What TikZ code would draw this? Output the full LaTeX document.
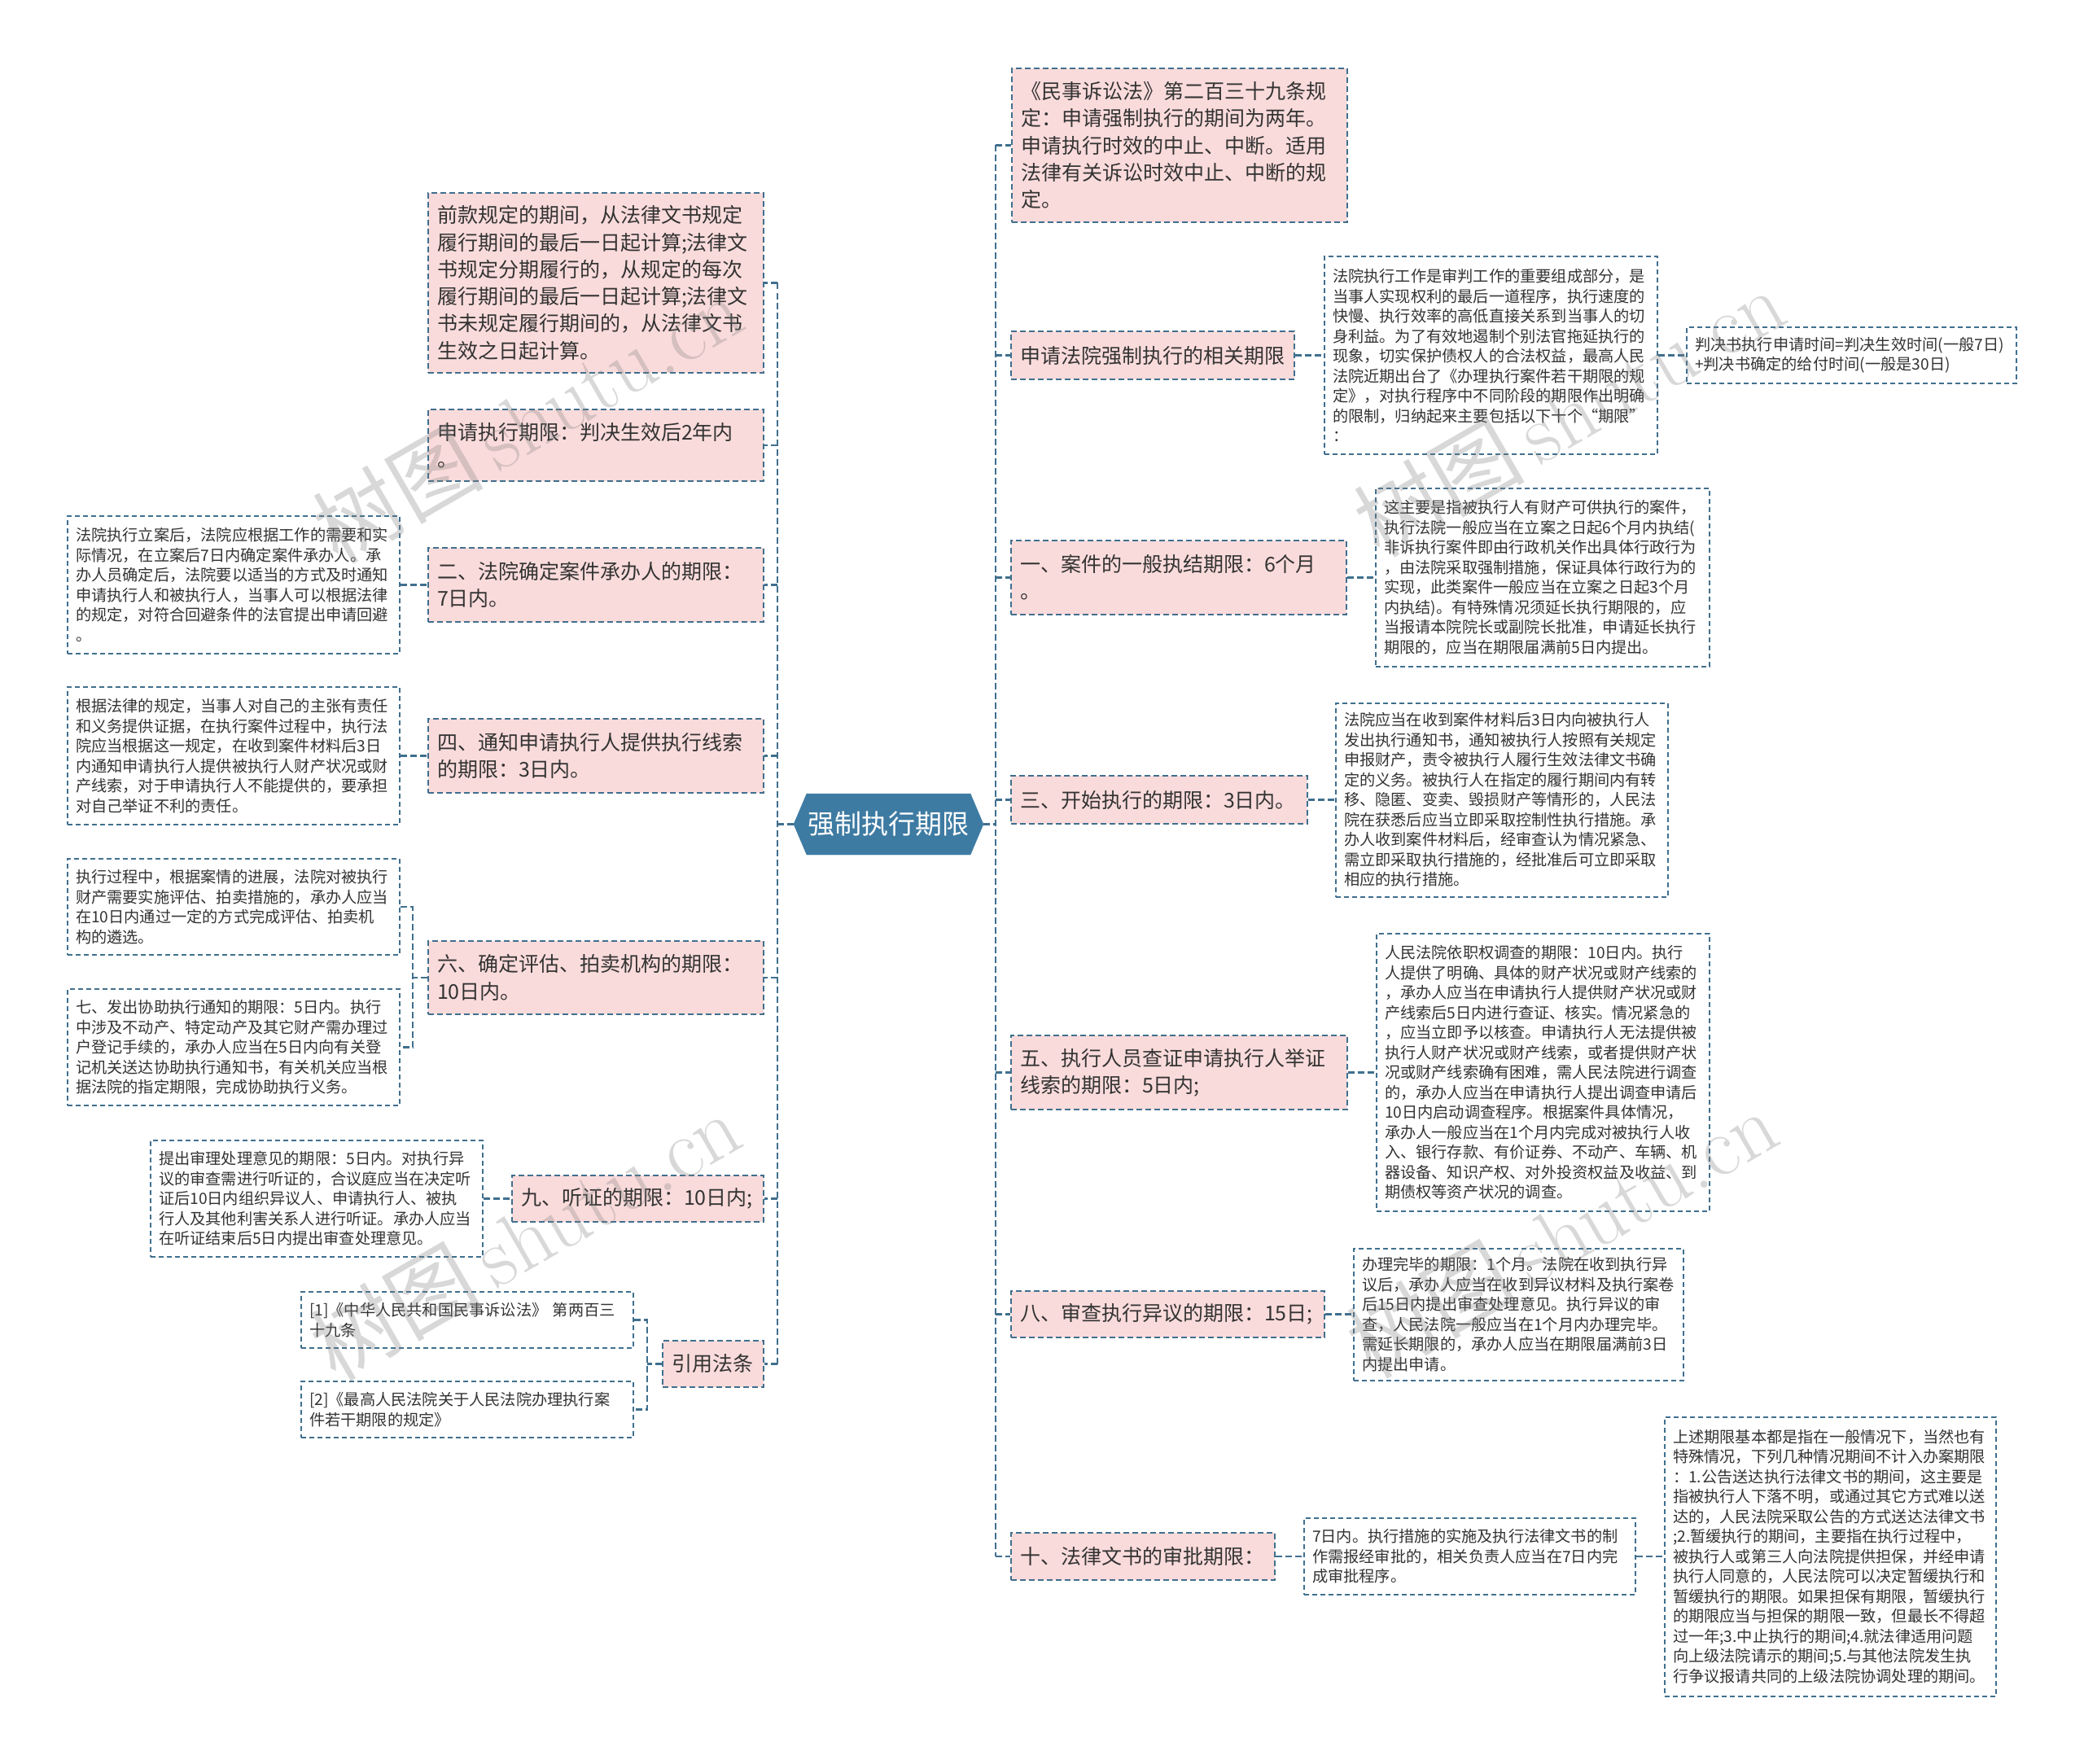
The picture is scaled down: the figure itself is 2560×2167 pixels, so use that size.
\documentclass[tikz,border=0pt]{standalone}
\usepackage{fontspec}
\newfontfamily\cjkfont{Noto Sans CJK SC}
\usetikzlibrary{shapes.symbols}
\definecolor{linkblue}{RGB}{64,111,142}
\definecolor{rootblue}{RGB}{62,123,163}
\definecolor{topicpink}{RGB}{250,219,219}
\definecolor{textgray}{RGB}{51,51,51}

\begin{document}
\begin{tikzpicture}[x=1pt, y=-1pt,
  conn/.style={draw=linkblue, line width=2.2pt, dash pattern=on 8pt off 4pt},
  root/.style={shape=signal, signal to=west and east, signal pointer angle=134,
    fill=rootblue, draw=rootblue, text=white, minimum width=233pt, minimum height=75pt,
    inner sep=0pt, font=\cjkfont\fontsize{33}{40}\selectfont},
  topic/.style 2 args={draw=linkblue, line width=2pt, dash pattern=on 7pt off 4pt,
    fill=topicpink, text=textgray, align=left, inner xsep=11pt, inner ysep=4pt,
    text width=#1, minimum height=#2, font=\cjkfont\fontsize{25}{33.3}\selectfont},
  note/.style 2 args={draw=linkblue, line width=2pt, dash pattern=on 6pt off 4pt,
    fill=white, text=textgray, align=left, inner xsep=10pt, inner ysep=4pt,
    text width=#1, minimum height=#2, font=\cjkfont\fontsize{19.2}{24.5}\selectfont},
  wmark/.style={text=gray, text opacity=0.3, rotate=30, inner sep=0pt,
    font=\fontsize{105}{110}\selectfont}]

\path[use as bounding box, fill=white] (0,0) rectangle (2560,2167);

%% root
\node[root] (root) at (1091.5,1012.5) {强制执行期限};

%% left branch
\node[topic={390pt}{221pt}] (L1) at (732,347.5) {前款规定的期间，从法律文书规定\\履行期间的最后一日起计算;法律文\\书规定分期履行的，从规定的每次\\履行期间的最后一日起计算;法律文\\书未规定履行期间的，从法律文书\\生效之日起计算。};
\node[topic={390pt}{88pt}] (L2) at (732,547) {申请执行期限：判决生效后2年内\\。};
\node[topic={390pt}{91pt}] (L3) at (732,718.5) {二、法院确定案件承办人的期限：\\7日内。};
\node[topic={390pt}{91pt}] (L4) at (732,928.5) {四、通知申请执行人提供执行线索\\的期限：3日内。};
\node[topic={390pt}{90pt}] (L6) at (732,1201) {六、确定评估、拍卖机构的期限：\\10日内。};
\node[topic={287pt}{57pt}] (L9) at (783.5,1472.5) {九、听证的期限：10日内;};
\node[topic={102pt}{57pt}] (Ref) at (876,1675.5) {引用法条};

\node[note={388pt}{169pt}] (S2) at (287,718.5) {法院执行立案后，法院应根据工作的需要和实\\际情况，在立案后7日内确定案件承办人。承\\办人员确定后，法院要以适当的方式及时通知\\申请执行人和被执行人，当事人可以根据法律\\的规定，对符合回避条件的法官提出申请回避\\。};
\node[note={388pt}{169pt}] (S4) at (287,928.5) {根据法律的规定，当事人对自己的主张有责任\\和义务提供证据，在执行案件过程中，执行法\\院应当根据这一规定，在收到案件材料后3日\\内通知申请执行人提供被执行人财产状况或财\\产线索，对于申请执行人不能提供的，要承担\\对自己举证不利的责任。};
\node[note={388pt}{118pt}] (S6a) at (287,1114) {执行过程中，根据案情的进展，法院对被执行\\财产需要实施评估、拍卖措施的，承办人应当\\在10日内通过一定的方式完成评估、拍卖机\\构的遴选。};
\node[note={388pt}{143pt}] (S6b) at (287,1286.5) {七、发出协助执行通知的期限：5日内。执行\\中涉及不动产、特定动产及其它财产需办理过\\户登记手续的，承办人应当在5日内向有关登\\记机关送达协助执行通知书，有关机关应当根\\据法院的指定期限，完成协助执行义务。};
\node[note={388pt}{143pt}] (S9) at (389,1472.5) {提出审理处理意见的期限：5日内。对执行异\\议的审查需进行听证的，合议庭应当在决定听\\证后10日内组织异议人、申请执行人、被执\\行人及其他利害关系人进行听证。承办人应当\\在听证结束后5日内提出审查处理意见。};
\node[note={388pt}{69pt}] (Ref1) at (574,1621.5) {[1]《中华人民共和国民事诉讼法》 第两百三\\十九条};
\node[note={388pt}{69pt}] (Ref2) at (574,1731.5) {[2]《最高人民法院关于人民法院办理执行案\\件若干期限的规定》};

%% right branch
\node[topic={390pt}{189pt}] (R0) at (1449,178.5) {《民事诉讼法》第二百三十九条规\\定：申请强制执行的期间为两年。\\申请执行时效的中止、中断。适用\\法律有关诉讼时效中止、中断的规\\定。};
\node[topic={326pt}{59pt}] (R1) at (1416,436.5) {申请法院强制执行的相关期限};
\node[topic={390pt}{91pt}] (R2) at (1448,709.5) {一、案件的一般执结期限：6个月\\。};
\node[topic={342pt}{59pt}] (R3) at (1424,982.5) {三、开始执行的期限：3日内。};
\node[topic={391pt}{91pt}] (R5) at (1448.5,1317.5) {五、执行人员查证申请执行人举证\\线索的期限：5日内;};
\node[topic={363pt}{57pt}] (R8) at (1434.5,1614.5) {八、审查执行异议的期限：15日;};
\node[topic={302pt}{58pt}] (R10) at (1404,1912) {十、法律文书的审批期限：};

\node[note={389pt}{243pt}] (R1a) at (1831.5,436.5) {法院执行工作是审判工作的重要组成部分，是\\当事人实现权利的最后一道程序，执行速度的\\快慢、执行效率的高低直接关系到当事人的切\\身利益。为了有效地遏制个别法官拖延执行的\\现象，切实保护债权人的合法权益，最高人民\\法院近期出台了《办理执行案件若干期限的规\\定》，对执行程序中不同阶段的期限作出明确\\的限制，归纳起来主要包括以下十个“期限”\\：};
\node[note={385pt}{69pt}] (R1b) at (2274.5,436.5) {判决书执行申请时间=判决生效时间(一般7日)\\+判决书确定的给付时间(一般是30日)};
\node[note={390pt}{219pt}] (R2a) at (1895,709.5) {这主要是指被执行人有财产可供执行的案件，\\执行法院一般应当在立案之日起6个月内执结(\\非诉执行案件即由行政机关作出具体行政行为\\，由法院采取强制措施，保证具体行政行为的\\实现，此类案件一般应当在立案之日起3个月\\内执结)。有特殊情况须延长执行期限的，应\\当报请本院院长或副院长批准，申请延长执行\\期限的，应当在期限届满前5日内提出。};
\node[note={388pt}{238pt}] (R3a) at (1845,982.5) {法院应当在收到案件材料后3日内向被执行人\\发出执行通知书，通知被执行人按照有关规定\\申报财产，责令被执行人履行生效法律文书确\\定的义务。被执行人在指定的履行期间内有转\\移、隐匿、变卖、毁损财产等情形的，人民法\\院在获悉后应当立即采取控制性执行措施。承\\办人收到案件材料后，经审查认为情况紧急、\\需立即采取执行措施的，经批准后可立即采取\\相应的执行措施。};
\node[note={389pt}{341pt}] (R5a) at (1895.5,1317.5) {人民法院依职权调查的期限：10日内。执行\\人提供了明确、具体的财产状况或财产线索的\\，承办人应当在申请执行人提供财产状况或财\\产线索后5日内进行查证、核实。情况紧急的\\，应当立即予以核查。申请执行人无法提供被\\执行人财产状况或财产线索，或者提供财产状\\况或财产线索确有困难，需人民法院进行调查\\的，承办人应当在申请执行人提出调查申请后\\10日内启动调查程序。根据案件具体情况，\\承办人一般应当在1个月内完成对被执行人收\\入、银行存款、有价证券、不动产、车辆、机\\器设备、知识产权、对外投资权益及收益、到\\期债权等资产状况的调查。};
\node[note={385pt}{162pt}] (R8a) at (1865.5,1614.5) {办理完毕的期限：1个月。法院在收到执行异\\议后，承办人应当在收到异议材料及执行案卷\\后15日内提出审查处理意见。执行异议的审\\查，人民法院一般应当在1个月内办理完毕。\\需延长期限的，承办人应当在期限届满前3日\\内提出申请。};
\node[note={387pt}{94pt}] (R10a) at (1805.5,1912) {7日内。执行措施的实施及执行法律文书的制\\作需报经审批的，相关负责人应当在7日内完\\成审批程序。};
\node[note={387pt}{343pt}] (R10b) at (2248.5,1912) {上述期限基本都是指在一般情况下，当然也有\\特殊情况，下列几种情况期间不计入办案期限\\：1.公告送达执行法律文书的期间，这主要是\\指被执行人下落不明，或通过其它方式难以送\\达的，人民法院采取公告的方式送达法律文书\\;2.暂缓执行的期间，主要指在执行过程中，\\被执行人或第三人向法院提供担保，并经申请\\执行人同意的，人民法院可以决定暂缓执行和\\暂缓执行的期限。如果担保有期限，暂缓执行\\的期限应当与担保的期限一致，但最长不得超\\过一年;3.中止执行的期间;4.就法律适用问题\\向上级法院请示的期间;5.与其他法院发生执\\行争议报请共同的上级法院协调处理的期间。};

%% connectors
\coordinate (lsp) at (955,1012.5);
\coordinate (rsp) at (1223,1012.5);
\draw[conn] (root.west) -- (lsp);
\draw[conn] (root.east) -- (rsp);
\draw[conn] (lsp |- L1.east) -- (lsp |- Ref.east);
\draw[conn] (rsp |- R0.west) -- (rsp |- R10.west);
\foreach \n in {L1,L2,L3,L4,L6,L9,Ref}
  \draw[conn] (lsp |- \n.east) -- (\n.east);
\foreach \n in {R0,R1,R2,R3,R5,R8,R10}
  \draw[conn] (rsp |- \n.west) -- (\n.west);

\draw[conn] (S2.east) -- (L3.west);
\draw[conn] (S4.east) -- (L4.west);
\draw[conn] (S9.east) -- (L9.west);
\coordinate (b6) at (507,1201);
\draw[conn] (L6.west) -- (b6);
\draw[conn] (S6a.east) -- (S6a.east -| b6) -- (S6b.east -| b6) -- (S6b.east);
\coordinate (bref) at (795,1675.5);
\draw[conn] (Ref.west) -- (bref);
\draw[conn] (Ref1.east) -- (Ref1.east -| bref) -- (Ref2.east -| bref) -- (Ref2.east);

\draw[conn] (R1.east) -- (R1a.west);
\draw[conn] (R1a.east) -- (R1b.west);
\draw[conn] (R2.east) -- (R2a.west);
\draw[conn] (R3.east) -- (R3a.west);
\draw[conn] (R5.east) -- (R5a.west);
\draw[conn] (R8.east) -- (R8a.west);
\draw[conn] (R10.east) -- (R10a.west);
\draw[conn] (R10a.east) -- (R10b.west);

%% watermark
\node[wmark] (wm1) at (648,514) {\cjkfont 树图\,\rmfamily shutu.cn};
\node[wmark] (wm2) at (1927,506) {\cjkfont 树图\,\rmfamily shutu.cn};
\node[wmark] (wm3) at (645,1518) {\cjkfont 树图\,\rmfamily shutu.cn};
\node[wmark] (wm4) at (1918,1515) {\cjkfont 树图\,\rmfamily shutu.cn};
\end{tikzpicture}
\end{document}
